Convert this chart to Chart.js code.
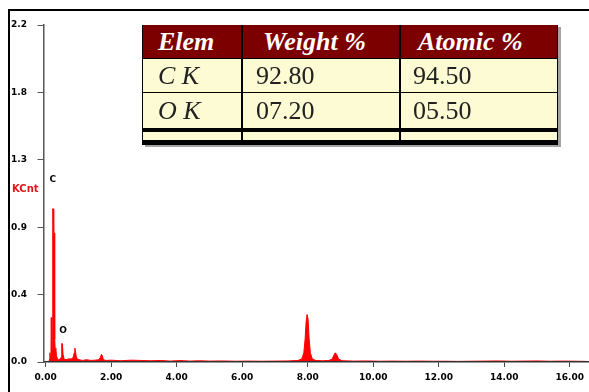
<!DOCTYPE html>
<html>
<head>
<meta charset="utf-8">
<script src="https://cdn.jsdelivr.net/npm/chart.js@4"></script>
<style>
  html, body { margin: 0; padding: 0; background: #fff; }
  #wrap { position: relative; width: 589px; height: 392px; overflow: hidden; background: #fff; }
  #frame { position: absolute; left: 8px; top: 9px; width: 590px; height: 400px;
           border-left: 2px solid #000; border-top: 2px solid #000; }
  #spectrum { position: absolute; left: 0; top: 0; }
  #quant { position: absolute; left: 142px; top: 25px; width: 414px; height: 120px;
           background: #fcfbd3; border-left: 1px solid #000; border-right: 1px solid #000;
           box-shadow: 3px 2px 0 #a3a3a3;
           font-family: "Liberation Serif", "Times New Roman", serif; font-size: 26px; }
  #quant .hd { position: absolute; left: 0; top: 0; width: 100%; height: 33px; background: #7d0000; }
  #quant .rule { position: absolute; left: 0; width: 100%; background: #000; }
  #quant .col { position: absolute; top: 0; width: 2px; height: 100%; background: #000; }
  #quant .cell { position: absolute; white-space: nowrap; }
  #quant .head { color: #fff; font-weight: bold; font-style: italic; }
  #quant .body { color: #222; }
  #quant .el { font-style: italic; }
</style>
</head>
<body>
<div id="wrap">
  <div id="frame"></div>
  <canvas id="spectrum" width="589" height="392"></canvas>
  <div id="quant"></div>
</div>
<script>
// EDS spectrum: energy (keV) and intensity (KCnt)
const energyKeV = [
  0.00, 0.10, 0.12, 0.13, 0.14, 0.16, 0.17, 0.18, 0.19, 0.20,
  0.21, 0.22, 0.23, 0.24, 0.25, 0.26, 0.27, 0.28, 0.29, 0.31,
  0.33, 0.36, 0.40, 0.45, 0.47, 0.49, 0.51, 0.53, 0.56, 0.62,
  0.70, 0.78, 0.84, 0.87, 0.89, 0.91, 0.93, 0.96, 1.02, 1.12,
  1.25, 1.38, 1.50, 1.62, 1.67, 1.70, 1.73, 1.76, 1.85, 2.00,
  2.30, 2.60, 2.90, 3.20, 3.50, 3.80, 4.10, 4.40, 4.70, 5.00,
  5.40, 5.80, 6.20, 6.60, 7.00, 7.40, 7.70, 7.82, 7.88, 7.92,
  7.95, 7.98, 8.01, 8.04, 8.08, 8.14, 8.25, 8.45, 8.65, 8.75,
  8.80, 8.84, 8.88, 8.94, 9.05, 9.40, 9.80, 10.2, 10.6, 11.0,
  11.4, 11.8, 12.2, 12.6, 13.0, 13.4, 13.8, 14.2, 14.6, 15.0,
  15.4, 15.8, 16.2, 16.5
];
const intensityKCnt = [
  0.000, 0.000, 0.020, 0.060, 0.020, 0.030, 0.290, 0.290, 0.060, 0.080,
  0.060, 1.000, 1.000, 0.840, 0.840, 0.840, 0.200, 0.150, 0.080, 0.090,
  0.040, 0.020, 0.015, 0.020, 0.030, 0.120, 0.120, 0.050, 0.020, 0.015,
  0.020, 0.020, 0.030, 0.060, 0.090, 0.070, 0.040, 0.020, 0.015, 0.010,
  0.015, 0.010, 0.012, 0.015, 0.030, 0.050, 0.040, 0.015, 0.010, 0.012,
  0.008, 0.012, 0.010, 0.008, 0.010, 0.006, 0.009, 0.006, 0.008, 0.006,
  0.007, 0.005, 0.006, 0.005, 0.006, 0.007, 0.010, 0.020, 0.060, 0.150,
  0.260, 0.310, 0.280, 0.160, 0.060, 0.020, 0.010, 0.008, 0.010, 0.020,
  0.045, 0.060, 0.050, 0.020, 0.008, 0.006, 0.007, 0.005, 0.006, 0.005,
  0.006, 0.005, 0.005, 0.004, 0.005, 0.006, 0.007, 0.005, 0.006, 0.007,
  0.005, 0.006, 0.005, 0.004
];

// axis ticks
const energyTicks = [0, 2, 4, 6, 8, 10, 12, 14, 16];
const countTicks = [0, 0.44, 0.88, 1.32, 1.76, 2.2];

// peak identification labels
const peakNames = ['C', 'O'];
const peakNameKeV = [0.22, 0.53];
const peakNameLevel = [1.19, 0.205];

// quantification results
const elements = ['C K', 'O K'];
const weightPct = [92.80, 7.20];
const atomicPct = [94.50, 5.50];
const quantHeaders = ['Elem', 'Weight %', 'Atomic %'];

// ---- quantification table ----
(function buildTable() {
  const box = document.getElementById('quant');
  const add = (cls, css, text) => {
    const d = document.createElement('div');
    d.className = cls;
    Object.assign(d.style, css);
    if (text !== undefined) d.textContent = text;
    box.appendChild(d);
    return d;
  };
  add('hd', {});
  add('rule', { top: '33px', height: '1px' });
  add('rule', { top: '67px', height: '1px' });
  add('rule', { top: '103px', height: '4px' });
  add('rule', { top: '115px', height: '5px' });
  add('col', { left: '98px' });
  add('col', { left: '256px' });

  const headLeft = [15, 120, 275];
  const bodyLeft = [15, 113, 270];
  quantHeaders.forEach((h, i) => add('cell head',
    { left: headLeft[i] + 'px', top: '0px', height: '33px', lineHeight: '33px' }, h));
  const fmt = v => v.toFixed(2).padStart(5, '0');
  const rowTop = [34, 68];
  const rowH = [33, 35];
  elements.forEach((el, r) => {
    const base = { top: rowTop[r] + 'px', height: rowH[r] + 'px', lineHeight: rowH[r] + 'px' };
    add('cell body el', Object.assign({ left: bodyLeft[0] + 'px' }, base), el);
    add('cell body', Object.assign({ left: bodyLeft[1] + 'px' }, base), fmt(weightPct[r]));
    add('cell body', Object.assign({ left: bodyLeft[2] + 'px' }, base), fmt(atomicPct[r]));
  });
})();

// ---- spectrum ----
const tickFont = { family: '"DejaVu Sans", Verdana, sans-serif', size: 9, weight: 'bold' };

const peakLabelPlugin = {
  id: 'peakLabels',
  afterDraw(chart) {
    const { ctx, scales: { x, y } } = chart;
    ctx.save();
    ctx.font = 'bold 9px "DejaVu Sans", Verdana, sans-serif';
    ctx.fillStyle = '#000';
    ctx.textAlign = 'center';
    ctx.textBaseline = 'middle';
    peakNames.forEach((n, i) => {
      ctx.fillText(n, x.getPixelForValue(peakNameKeV[i]), y.getPixelForValue(peakNameLevel[i]));
    });
    ctx.font = 'bold 10px "DejaVu Sans", Verdana, sans-serif';
    ctx.fillStyle = '#e8121a';
    ctx.textAlign = 'left';
    ctx.fillText('KCnt', 12, 189);
    ctx.restore();
  }
};

new Chart(document.getElementById('spectrum'), {
  type: 'line',
  data: {
    datasets: [{
      data: energyKeV.map((e, i) => ({ x: e, y: intensityKCnt[i] })),
      borderColor: '#ff0000',
      backgroundColor: '#ff0000',
      borderWidth: 1,
      pointRadius: 0,
      tension: 0,
      fill: 'origin'
    }]
  },
  options: {
    responsive: false,
    animation: false,
    devicePixelRatio: 1,
    layout: { padding: { left: 11, top: 25, right: 0, bottom: 0 } },
    plugins: { legend: { display: false }, tooltip: { enabled: false } },
    scales: {
      x: {
        type: 'linear',
        min: -0.067,
        max: 16.56,
        afterBuildTicks: s => { s.ticks = energyTicks.map(v => ({ value: v })); },
        afterFit: s => { s.height = 30; },
        grid: { drawOnChartArea: false, tickLength: 5, color: '#444', lineWidth: 1 },
        border: { color: '#333', width: 1.5, z: 1 },
        ticks: {
          font: tickFont, color: '#000', padding: 5,
          maxRotation: 0, autoSkip: false,
          callback: v => Number(v).toFixed(2)
        }
      },
      y: {
        min: 0,
        max: 2.2,
        afterBuildTicks: s => { s.ticks = countTicks.map(v => ({ value: v })); },
        afterFit: s => { s.width = 32.5; },
        grid: { drawOnChartArea: false, tickLength: 6, color: '#555', lineWidth: 1 },
        border: { color: '#555', width: 1.5, z: 1 },
        ticks: {
          font: tickFont, color: '#000', padding: 3,
          crossAlign: 'far',
          callback: v => Number(v).toFixed(1)
        }
      }
    }
  },
  plugins: [peakLabelPlugin]
});
</script>
</body>
</html>
